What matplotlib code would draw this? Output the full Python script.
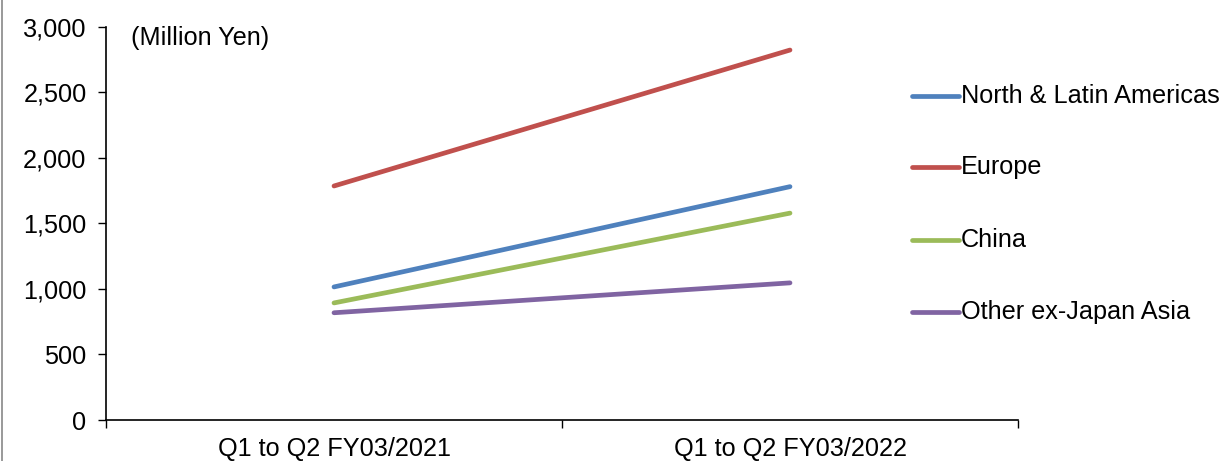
import numpy as np
import matplotlib.pyplot as plt
from matplotlib.lines import Line2D

plt.rcParams['font.family'] = ['Liberation Sans', 'DejaVu Sans']

periods = ["Q1 to Q2 FY03/2021", "Q1 to Q2 FY03/2022"]
regions = ["North & Latin Americas", "Europe", "China", "Other ex-Japan Asia"]
north = [1015, 1780]
europe = [1785, 2822]
china = [893, 1578]
other = [818, 1046]
colors = ["#4F81BD", "#C0504D", "#9BBB59", "#8064A2"]

fig = plt.figure(figsize=(12.22, 4.61), dpi=100)
ax = fig.add_axes([106/1222, 41/461, 912/1222, 393.3/461])

x = np.arange(len(periods))
for vals, name, c in zip([north, europe, china, other], regions, colors):
    ax.plot(x, vals, color=c, lw=3.4, solid_capstyle='round', label=name)

ax.set_xlim(-0.5, 1.5)
ax.set_ylim(0, 3000)
ax.set_yticks(np.arange(0, 3001, 500))
ax.set_yticklabels([f"{v:,}" for v in range(0, 3001, 500)])
ax.set_xticks(x)
ax.set_xticklabels(periods)
ax.set_xticks([-0.5, 0.5, 1.5], minor=True)
ax.tick_params(axis='x', which='major', length=0, pad=12, labelsize=18.2)
ax.tick_params(axis='x', which='minor', length=6, width=1, direction='out')
ax.tick_params(axis='y', length=6, width=1, labelsize=18.2, pad=8)
for s in ['top', 'right']:
    ax.spines[s].set_visible(False)
for s in ['left', 'bottom']:
    ax.spines[s].set_linewidth(1.2)

ax.text(131/1222, 1 - 38/461, "(Million Yen)", transform=fig.transFigure,
        fontsize=18.2, va='center', ha='left')

# legend drawn by hand on the right
rows_y = [96, 167, 240, 312]
for name, c, yy in zip(regions, colors, rows_y):
    fy = 1 - yy / 461
    fig.add_artist(Line2D([912/1222, 959/1222], [fy, fy], color=c, lw=3.4,
                          solid_capstyle='round', transform=fig.transFigure))
    fig.text(961/1222, fy, name, fontsize=18.2, va='center', ha='left')

# thin frame line at the left edge
fig.add_artist(Line2D([1.5/1222, 1.5/1222], [0, 1], color='#888888', lw=1.2,
                      transform=fig.transFigure))

fig.savefig("out.png", dpi=100)
